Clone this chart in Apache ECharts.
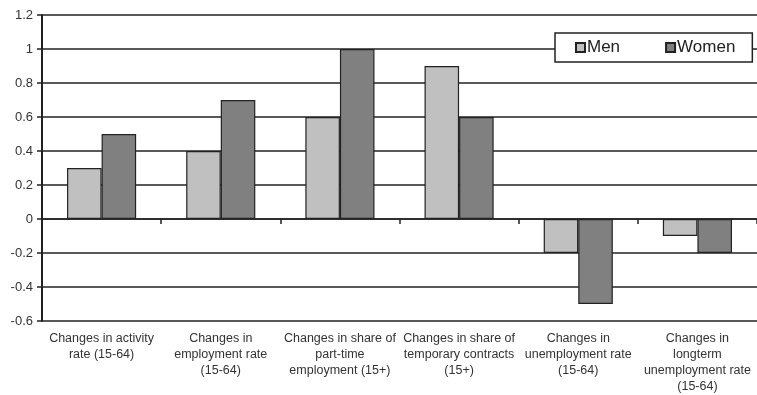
<!DOCTYPE html>
<html>
<head>
<meta charset="utf-8">
<script src="https://cdn.jsdelivr.net/npm/echarts@6/dist/echarts.min.js"></script>
<style>
  html, body { margin: 0; padding: 0; background: #fff; }
  #chart { width: 757px; height: 395px; }
</style>
</head>
<body>
<div id="chart"></div>
<script>
// categories (line breaks as in the original labels)
var categories = [
    "Changes in activity\nrate (15-64)",
    "Changes in\nemployment rate\n(15-64)",
    "Changes in share of\npart-time\nemployment (15+)",
    "Changes in share of\ntemporary contracts\n(15+)",
    "Changes in\nunemployment rate\n(15-64)",
    "Changes in\nlongterm\nunemployment rate\n(15-64)"
];
var menValues = [0.3, 0.4, 0.6, 0.9, -0.2, -0.1];
var womenValues = [0.5, 0.7, 1.0, 0.6, -0.5, -0.2];

var chart = echarts.init(document.getElementById("chart"));

var option = {
    backgroundColor: "#fff",
    animation: false,
    textStyle: {fontFamily: "Liberation Sans, Arial, sans-serif"},
    grid: {left: 42, top: 15, width: 720, height: 307, containLabel: false},
    legend: {
        left: 555, top: 33,
        padding: [6, 17, 6, 20],
        itemGap: 45,
        itemWidth: 9, itemHeight: 9,
        icon: "rect",
        backgroundColor: "#fff",
        borderColor: "#222",
        borderWidth: 1.5,
        textStyle: {fontSize: 17, color: "#222", padding: [0, 0, 0, -3]},
        data: ["Men", "Women"]
    },
    xAxis: [{
        // labels only, kept at the bottom of the plot
        type: "category",
        data: categories,
        position: "bottom",
        axisLine: {show: false, onZero: false},
        axisTick: {show: false},
        axisLabel: {
            interval: 0, margin: 10,
            fontSize: 12.5, lineHeight: 16, color: "#333"
        }
    }, {
        // zero line with the category ticks
        type: "category",
        data: categories,
        position: "bottom",
        axisLine: {show: true, onZero: true, lineStyle: {color: "#222", width: 1.5}},
        axisTick: {show: true, interval: 0, length: 5, lineStyle: {color: "#222", width: 1.5}},
        axisLabel: {show: false}
    }],
    yAxis: {
        type: "value",
        min: -0.6, max: 1.2, interval: 0.2,
        axisLine: {show: true, lineStyle: {color: "#222", width: 2}},
        axisTick: {show: true, length: 5, lineStyle: {color: "#222", width: 1.5}},
        axisLabel: {
            fontSize: 13, color: "#333", margin: 9,
            formatter: function (v) { return String(Math.round(v * 10) / 10); }
        },
        splitLine: {show: true, lineStyle: {color: "#222", width: 1.5}}
    },
    series: [{
        name: "Men",
        type: "bar",
        data: menValues,
        barGap: "0%",
        barCategoryGap: "42%",
        itemStyle: {color: "#c0c0c0", borderColor: "#222", borderWidth: 1.2}
    }, {
        name: "Women",
        type: "bar",
        data: womenValues,
        barGap: "0%",
        barCategoryGap: "42%",
        itemStyle: {color: "#808080", borderColor: "#222", borderWidth: 1.2}
    }]
};

chart.setOption(option);
</script>
</body>
</html>
